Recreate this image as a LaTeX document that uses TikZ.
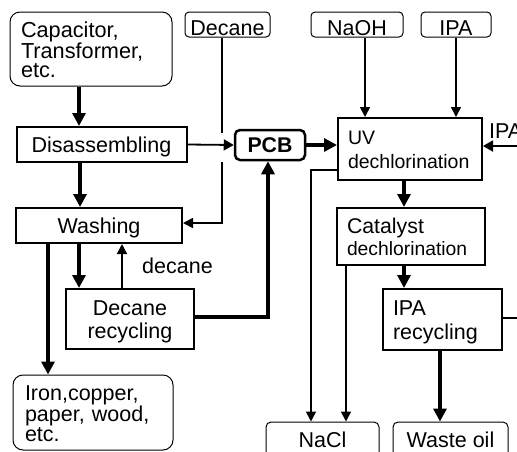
\documentclass[tikz,border=0pt]{standalone}
\usepackage{fontspec}
\setmainfont{Liberation Sans}
\usetikzlibrary{arrows.meta}
\begin{document}
\begin{tikzpicture}[x=1pt,y=-1pt,
  every node/.style={font=\fontsize{21.5}{20}\selectfont, inner sep=0pt},
  proc/.style={draw, line width=2pt},
  src/.style={draw, line width=1pt, rounded corners=4pt, text height=23pt, text depth=2pt, minimum height=25pt},
  bigsrc/.style={draw, line width=1pt, rounded corners=10pt},
  oneline/.style={text height=15.5pt, text depth=0pt},
  thk/.style={line width=3.5pt, -{Triangle[length=13pt,width=13pt]}},
  medarr/.style={line width=1.8pt, -{Triangle[length=10pt,width=11pt]}},
  thn/.style={line width=1.6pt, -{Triangle[length=10pt,width=10pt]}},
  plainline/.style={line width=1.6pt}
]
\useasboundingbox (0,0) rectangle (517,451);
\clip (0,0) rectangle (517,451);

% sources
\node[bigsrc, minimum width=162pt, minimum height=74pt, text width=140pt, inner xsep=11pt, align=left,
      text height=25pt, text depth=49pt, font=\fontsize{21.7}{19.5}\selectfont] (cap) at (91,49) {Capacitor,\\Transformer,\\etc.};
\node[src, minimum width=85pt] (dec) at (227.5,24.5) {Decane};
\node[src, minimum width=92pt] (naoh) at (357,24.5) {NaOH};
\node[src, minimum width=70pt] (ipa) at (456,24.5) {IPA};

% processes
\node[proc, oneline, minimum width=170pt, minimum height=35pt] (dis) at (101.5,144.5) {Disassembling};
\node[draw, line width=2.5pt, rounded corners=5pt, oneline, minimum width=70pt, minimum height=30pt,
      font=\fontsize{21.3}{20}\selectfont\bfseries] (pcb) at (270,145) {PCB};
\node[proc, minimum width=144pt, minimum height=62pt, text width=124pt, inner xsep=10pt, align=left,
      text height=26.5pt, text depth=35.5pt, font=\fontsize{19.5}{23.5}\selectfont] (uv) at (410,149) {UV\\dechlorination};
\node[proc, oneline, minimum width=166pt, minimum height=35pt] (wash) at (99,225.5) {Washing};
\node[proc, minimum width=128pt, minimum height=60pt, align=center,
      text height=49.7pt, text depth=10.3pt, font=\fontsize{21.5}{23}\selectfont] (decrec) at (130,319) {Decane\\recycling};
\node[proc, minimum width=148pt, minimum height=57pt, text width=127pt, inner xsep=10.5pt, align=left,
      text height=25pt, text depth=32pt, font=\fontsize{21.3}{22}\selectfont] (cat) at (410.5,236.5) {Catalyst\\{\fontsize{19.3}{22}\selectfont dechlorination}};
\node[proc, minimum width=119pt, minimum height=61pt, text width=99pt, inner xsep=10pt, align=left,
      text height=26pt, text depth=35pt, font=\fontsize{21.5}{24}\selectfont] (iparec) at (442.5,319.5) {IPA\\recycling};

% products
\node[bigsrc, minimum width=160pt, minimum height=75pt, text width=136pt, inner xsep=12pt, align=left,
      text height=25pt, text depth=50pt, font=\fontsize{21.5}{20}\selectfont] (iron) at (93,412.5) {Iron,copper,\\paper, wood,\\etc.};
\node[draw, line width=1pt, rounded corners=5pt, oneline, minimum width=113pt, minimum height=36pt] (nacl) at (322.5,440) {NaCl};
\node[draw, line width=1pt, rounded corners=5pt, oneline, minimum width=115pt, minimum height=36pt] (waste) at (450.5,440) {Waste oil};

% labels
\node[anchor=base west] (declbl) at (142,273) {decane};
\node[anchor=base west] (ipalbl) at (489,138) {IPA};
\coordinate (rin) at (525,146);
\coordinate (rout) at (525,318);

% connectors
\draw[thk] ([xshift=-12pt]cap.south) -- ([xshift=-12pt]cap.south |- dis.north);
\draw[thn] ([xshift=-5.5pt]dec.south) |- ([yshift=2.5pt]wash.east);
\coordinate (cross) at ([xshift=-5.5pt]dec.south |- dis.east);
\fill[white] ([xshift=-3pt,yshift=12pt]cross) rectangle ([xshift=3pt,yshift=-17pt]cross);
\draw[medarr] (dis.east) -- (pcb.west);
\draw[thk] ([xshift=-21.5pt]dis.south) -- ([xshift=-21.5pt]dis.south |- wash.north);
\draw[thk] ([xshift=-20pt]wash.south) -- ([xshift=-20pt]wash.south |- decrec.north);
\draw[thn] ([xshift=-8pt]decrec.north) -- ([xshift=-8pt]decrec.north |- wash.south);
\draw[thk] ([xshift=-51pt]wash.south) -- ([xshift=-51pt]wash.south |- iron.north);
\draw[thk] ([yshift=2pt]decrec.east) -| ([xshift=-2pt]pcb.south);
\draw[thk] (pcb.east) -- (pcb.east -| uv.west);
\draw[thn] ([xshift=8pt]naoh.south) -- ([xshift=8pt]naoh.south |- uv.north);
\draw[thn] (ipa.south) -- (ipa.south |- uv.north);
\draw[medarr] (rin) -- (rin -| uv.east);
\draw[thk] ([xshift=-6pt]uv.south) -- ([xshift=-6pt]uv.south |- cat.north);
\draw[thn] ([yshift=-21pt]uv.west) -| ([xshift=-11.5pt]nacl.north);
\draw[thn] ([xshift=23.5pt]nacl.north |- cat.south) -- ([xshift=23.5pt]nacl.north);
\draw[thk] ([xshift=-6.5pt]cat.south) -- ([xshift=-6.5pt]cat.south |- iparec.north);
\draw[plainline] ([yshift=1.5pt]iparec.east) -- (iparec.east |- rout) -- (rout);
\draw[thk] ([xshift=-2.5pt]iparec.south) -- ([xshift=-2.5pt]iparec.south |- waste.north);
\end{tikzpicture}
\end{document}
